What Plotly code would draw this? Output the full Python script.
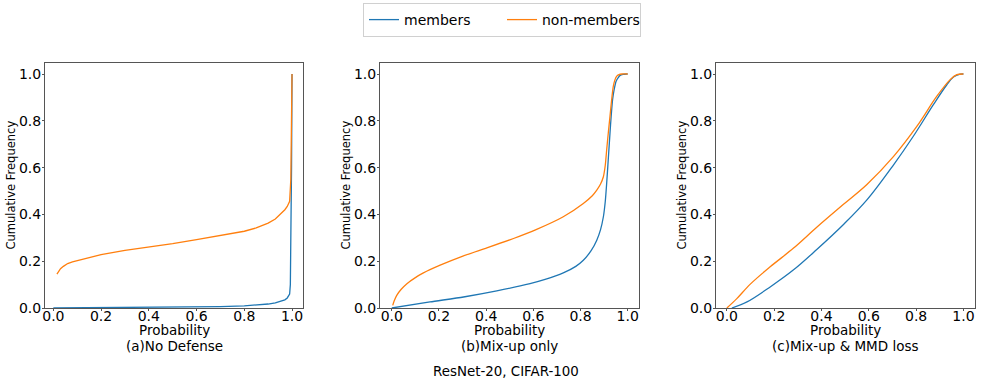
import plotly.graph_objects as go

# ---- data ----
a_mem_x = [0.0, 0.2, 0.4, 0.6, 0.7, 0.8, 0.85, 0.9, 0.93, 0.95, 0.97, 0.98, 0.985, 0.99, 0.993, 0.996, 0.998, 1.0]
a_mem_y = [0.0, 0.001, 0.002, 0.004, 0.006, 0.009, 0.012, 0.017, 0.022, 0.027, 0.035, 0.043, 0.05, 0.06, 0.1, 0.3, 0.6, 1.0]
a_non_x = [0.015, 0.02, 0.03, 0.042, 0.06, 0.08, 0.1, 0.15, 0.2, 0.3, 0.4, 0.5, 0.6, 0.7, 0.8, 0.85, 0.9, 0.93, 0.95, 0.97, 0.98, 0.99, 0.995, 0.998, 1.0]
a_non_y = [0.145, 0.155, 0.168, 0.178, 0.19, 0.197, 0.202, 0.216, 0.228, 0.246, 0.259, 0.275, 0.292, 0.309, 0.328, 0.342, 0.363, 0.38, 0.399, 0.42, 0.434, 0.456, 0.55, 0.75, 1.0]

b_mem_x = [0.0, 0.162, 0.304, 0.445, 0.586, 0.65, 0.727, 0.78, 0.812, 0.845, 0.869, 0.885, 0.897, 0.905, 0.911, 0.918, 0.925, 0.93, 0.936, 0.943, 0.951, 0.96, 0.968, 0.98, 0.996, 1.0]
b_mem_y = [0.0, 0.026, 0.047, 0.073, 0.104, 0.122, 0.15, 0.178, 0.204, 0.245, 0.29, 0.335, 0.39, 0.455, 0.533, 0.64, 0.747, 0.82, 0.89, 0.935, 0.969, 0.985, 0.994, 0.998, 1.0, 1.0]
b_non_x = [0.004, 0.01, 0.021, 0.04, 0.064, 0.1, 0.134, 0.205, 0.304, 0.403, 0.516, 0.614, 0.727, 0.812, 0.85, 0.869, 0.885, 0.897, 0.905, 0.911, 0.918, 0.925, 0.932, 0.939, 0.946, 0.953, 0.963, 0.975, 1.0]
b_non_y = [0.011, 0.03, 0.054, 0.08, 0.104, 0.13, 0.15, 0.183, 0.223, 0.257, 0.297, 0.336, 0.39, 0.447, 0.48, 0.504, 0.53, 0.561, 0.61, 0.676, 0.75, 0.819, 0.89, 0.947, 0.975, 0.99, 0.997, 1.0, 1.0]

c_mem_x = [0.021, 0.085, 0.183, 0.282, 0.38, 0.493, 0.592, 0.704, 0.789, 0.873, 0.93, 0.958, 0.986, 1.0]
c_mem_y = [0.0, 0.026, 0.09, 0.163, 0.250, 0.357, 0.462, 0.611, 0.735, 0.869, 0.954, 0.987, 0.999, 1.0]
c_non_x = [0.0, 0.042, 0.099, 0.183, 0.282, 0.38, 0.493, 0.592, 0.704, 0.803, 0.887, 0.944, 0.972, 1.0]
c_non_y = [0.0, 0.04, 0.102, 0.176, 0.256, 0.345, 0.443, 0.528, 0.647, 0.776, 0.904, 0.976, 0.997, 1.0]

subtitles = ["(a)No Defense", "(b)Mix-up only", "(c)Mix-up & MMD loss"]
main_title = "ResNet-20, CIFAR-100"
x_label = "Probability"
y_label = "Cumulative Frequency"
tick_vals = [0.0, 0.2, 0.4, 0.6, 0.8, 1.0]
tick_text = ["0.0", "0.2", "0.4", "0.6", "0.8", "1.0"]

BLUE = "#1f77b4"
ORANGE = "#ff7f0e"
FONT = "DejaVu Sans"
W, H = 981, 381

panels = [
    (a_mem_x, a_mem_y, a_non_x, a_non_y, "linear", 0),
    (b_mem_x, b_mem_y, b_non_x, b_non_y, "spline", 0.6),
    (c_mem_x, c_mem_y, c_non_x, c_non_y, "spline", 1.0),
]
px_x = [(45, 303), (380, 639), (716, 975)]
x_ranges = [[-0.035, 1.046], [-0.05, 1.048], [-0.046, 1.049]]
y_top_px, y_bot_px = 63, 308

fig = go.Figure()
layout = dict(
    width=W, height=H,
    margin=dict(l=0, r=0, t=0, b=0),
    paper_bgcolor="white", plot_bgcolor="white",
    font=dict(family=FONT, color="black"),
    showlegend=True,
    legend=dict(orientation="h", x=502 / W, xanchor="center", y=1 - 3 / H, yanchor="top",
                bordercolor="#d0d0d0", borderwidth=1, font=dict(size=14, family=FONT),
                itemwidth=30, entrywidth=93, entrywidthmode="pixels", bgcolor="white"),
)
annotations = []
for i, (mx, my, nx, ny, shape, sm) in enumerate(panels):
    n = i + 1
    xa = "x" if n == 1 else f"x{n}"
    ya = "y" if n == 1 else f"y{n}"
    line_kw = dict(shape=shape, width=1.3)
    if shape == "spline":
        line_kw["smoothing"] = sm
    fig.add_trace(go.Scatter(x=mx, y=my, mode="lines", name="members",
                             line=dict(color=BLUE, **line_kw), xaxis=xa, yaxis=ya,
                             showlegend=(i == 0)))
    fig.add_trace(go.Scatter(x=nx, y=ny, mode="lines", name="non-members",
                             line=dict(color=ORANGE, **line_kw), xaxis=xa, yaxis=ya,
                             showlegend=(i == 0)))
    x0, x1 = px_x[i]
    dom = [x0 / W, x1 / W]
    key_x = "xaxis" if n == 1 else f"xaxis{n}"
    key_y = "yaxis" if n == 1 else f"yaxis{n}"
    layout[key_x] = dict(domain=dom, range=x_ranges[i], anchor=ya,
                         showline=True, linecolor="#555", linewidth=1, mirror=True,
                         ticks="outside", ticklen=2, tickcolor="#555",
                         tickvals=tick_vals, ticktext=tick_text, ticklabelstandoff=-7,
                         tickfont=dict(size=14, family=FONT), showgrid=False, zeroline=False,
                         automargin=False)
    layout[key_y] = dict(domain=[1 - y_bot_px / H, 1 - y_top_px / H], range=[0, 1.047],
                         anchor=xa,
                         showline=True, linecolor="#555", linewidth=1, mirror=True,
                         ticks="outside", ticklen=2, tickcolor="#555",
                         tickvals=tick_vals, ticktext=tick_text, ticklabelstandoff=-2,
                         tickfont=dict(size=14, family=FONT), showgrid=False, zeroline=False,
                         automargin=False)
    cx = (x0 + x1) / 2 / W
    annotations.append(dict(text=x_label, x=cx, y=1 - 329.5 / H, xref="paper", yref="paper",
                            xanchor="center", yanchor="middle", showarrow=False,
                            font=dict(size=13.5, family=FONT)))
    annotations.append(dict(text=subtitles[i], x=cx, y=1 - 346 / H, xref="paper", yref="paper",
                            xanchor="center", yanchor="middle", showarrow=False,
                            font=dict(size=13.5, family=FONT)))
    annotations.append(dict(text=y_label, x=(x0 - 35) / W, y=1 - 185.5 / H, xref="paper",
                            yref="paper", xanchor="center", yanchor="middle", showarrow=False,
                            textangle=-90, font=dict(size=11.5, family=FONT)))

annotations.append(dict(text=main_title, x=506 / W, y=1 - 371 / H, xref="paper", yref="paper",
                        xanchor="center", yanchor="middle", showarrow=False,
                        font=dict(size=13.4, family=FONT)))
layout["annotations"] = annotations
fig.update_layout(**layout)
fig.write_html("out.html", config={"displayModeBar": False},
               post_script="document.body.style.margin='0px';document.body.style.overflow='hidden';")
